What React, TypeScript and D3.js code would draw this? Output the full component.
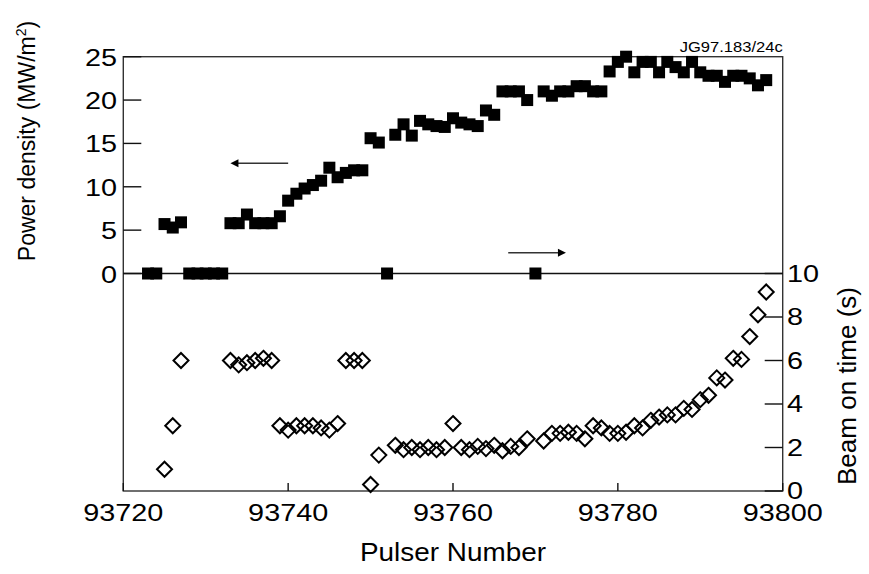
import * as d3 from "d3";

// top panel: pulse number and power density (MW/m^2)
const powerPulses = [
  93723, 93724, 93725, 93726, 93727, 93728, 93729, 93730, 93731, 93732,
  93733, 93734, 93735, 93736, 93737, 93738, 93739, 93740, 93741, 93742,
  93743, 93744, 93745, 93746, 93747, 93748, 93749, 93750, 93751, 93752,
  93753, 93754, 93755, 93756, 93757, 93758, 93759, 93760, 93761, 93762,
  93763, 93764, 93765, 93766, 93767, 93768, 93769, 93770, 93771, 93772,
  93773, 93774, 93775, 93776, 93777, 93778, 93779, 93780, 93781, 93782,
  93783, 93784, 93785, 93786, 93787, 93788, 93789, 93790, 93791, 93792,
  93793, 93794, 93795, 93796, 93797, 93798,
];
const powerValues = [
  0, 0, 5.7, 5.3, 5.9, 0, 0, 0, 0, 0,
  5.8, 5.8, 6.8, 5.8, 5.8, 5.8, 6.6, 8.4, 9.2, 9.8,
  10.2, 10.7, 12.2, 11.1, 11.6, 11.9, 11.9, 15.6, 15.1, 0,
  16.0, 17.2, 15.9, 17.6, 17.2, 17.0, 16.9, 17.9, 17.4, 17.2,
  17.0, 18.8, 18.3, 21.0, 21.0, 21.0, 20.0, 0, 21.0, 20.5,
  21.0, 21.0, 21.6, 21.6, 21.0, 21.0, 23.3, 24.4, 25.0, 23.2,
  24.4, 24.4, 23.2, 24.4, 23.8, 23.2, 24.4, 23.2, 22.8, 22.8,
  22.1, 22.8, 22.8, 22.5, 21.7, 22.3,
];

// bottom panel: pulse number and beam on time (s)
const beamPulses = [
  93725, 93726, 93727, 93733, 93734, 93735, 93736, 93737, 93738, 93739,
  93740, 93741, 93742, 93743, 93744, 93745, 93746, 93747, 93748, 93749,
  93750, 93751, 93753, 93754, 93755, 93756, 93757, 93758, 93759, 93760,
  93761, 93762, 93763, 93764, 93765, 93766, 93767, 93768, 93769, 93771,
  93772, 93773, 93774, 93775, 93776, 93777, 93778, 93779, 93780, 93781,
  93782, 93783, 93784, 93785, 93786, 93787, 93788, 93789, 93790, 93791,
  93792, 93793, 93794, 93795, 93796, 93797, 93798,
];
const beamValues = [
  1.0, 3.0, 6.0, 6.0, 5.8, 5.9, 6.0, 6.1, 6.0, 3.0,
  2.8, 3.0, 3.0, 3.0, 2.9, 2.8, 3.1, 6.0, 6.0, 6.0,
  0.3, 1.65, 2.1, 1.9, 2.0, 1.9, 2.0, 1.9, 2.0, 3.1,
  2.0, 1.9, 2.05, 1.95, 2.1, 1.85, 2.05, 2.0, 2.4, 2.3,
  2.65, 2.65, 2.7, 2.65, 2.4, 3.0, 2.9, 2.65, 2.65, 2.7,
  3.0, 2.9, 3.25, 3.4, 3.5, 3.5, 3.8, 3.75, 4.2, 4.4,
  5.2, 5.1, 6.1, 6.05, 7.1, 8.1, 9.15,
];

const xTicks = [93720, 93740, 93760, 93780, 93800];
const powerTicks = [0, 5, 10, 15, 20, 25];
const beamTicks = [0, 2, 4, 6, 8, 10];

// arrows: [from pulse, to pulse], drawn at a power level
const leftArrow = { from: 93740, to: 93733, level: 12.7 };
const rightArrow = { from: 93766.7, to: 93773.7, level: 2.4 };

const W = 869, H = 574;
const left = 123.3, right = 782.7, top = 56.7, mid = 273.5, bottom = 491;
const font = "'Liberation Sans', Arial, sans-serif";

export default function App() {
  const x = d3.scaleLinear().domain([93720, 93800]).range([left, right]);
  const yP = d3.scaleLinear().domain([0, 25]).range([mid, top]);
  const yB = d3.scaleLinear().domain([0, 10]).range([bottom, mid]);

  const sq = 12;
  const dh = 7.5;
  const diamond = `M0,${-dh}L${dh},0L0,${dh}L${-dh},0Z`;

  const arrow = (a: { from: number; to: number; level: number }) => {
    const x1 = x(a.from), x2 = x(a.to), y = yP(a.level);
    const dir = x2 > x1 ? 1 : -1;
    return (
      <g>
        <line x1={x1} x2={x2 - dir * 6} y1={y} y2={y} stroke="#333" strokeWidth={1.5} />
        <path d={`M${x2},${y}L${x2 - dir * 8},${y - 4}L${x2 - dir * 8},${y + 4}Z`} fill="#000" />
      </g>
    );
  };

  return (
    <svg width={W} height={H} style={{ position: "absolute", left: 0, top: 0, background: "#fff" }}
      fontFamily={font}>
      {/* frame */}
      <rect x={left} y={top} width={right - left} height={bottom - top} fill="none" stroke="#333" strokeWidth={1.4} />
      <line x1={left} x2={right} y1={mid} y2={mid} stroke="#111" strokeWidth={1.6} />

      {/* left ticks */}
      {powerTicks.map(t => (
        <g key={"p" + t}>
          <line x1={left} x2={left + 18} y1={yP(t)} y2={yP(t)} stroke="#111" strokeWidth={1.4} />
          <text transform={`translate(117,${yP(t) + 9}) scale(1.2,1)`} textAnchor="end" fontSize={24}>{t}</text>
        </g>
      ))}
      {/* right ticks */}
      {beamTicks.map(t => (
        <g key={"b" + t}>
          <line x1={right - 18} x2={right} y1={yB(t)} y2={yB(t)} stroke="#111" strokeWidth={1.4} />
          <text transform={`translate(787,${yB(t) + 8}) scale(1.2,1)`} textAnchor="start" fontSize={24}>{t}</text>
        </g>
      ))}
      {/* bottom ticks */}
      {xTicks.map(t => (
        <g key={"x" + t}>
          <line x1={x(t)} x2={x(t)} y1={bottom - 8} y2={bottom} stroke="#111" strokeWidth={1.4} />
          <text transform={`translate(${x(t)},521) scale(1.2,1)`} textAnchor="middle" fontSize={24}>{t}</text>
        </g>
      ))}

      {/* power density squares */}
      {powerPulses.map((p, i) => (
        <rect key={"s" + p} x={x(p) - sq / 2} y={yP(powerValues[i]) - sq / 2} width={sq} height={sq} fill="#000" />
      ))}

      {/* beam on time diamonds */}
      {beamPulses.map((p, i) => (
        <path key={"d" + p} d={diamond} transform={`translate(${x(p)},${yB(beamValues[i])})`}
          fill="none" stroke="#000" strokeWidth={2} />
      ))}

      {arrow(leftArrow)}
      {arrow(rightArrow)}

      {/* titles */}
      <text transform="translate(35,141) rotate(-90)" textAnchor="middle" fontSize={23}>
        Power density (MW/m<tspan fontSize={14} dy={-9}>2</tspan><tspan dy={9}>)</tspan>
      </text>
      <text transform="translate(856,386) rotate(-90)" textAnchor="middle" fontSize={26}>Beam on time (s)</text>
      <text x={(left + right) / 2} y={561} textAnchor="middle" fontSize={26} textLength={186}
        lengthAdjust="spacingAndGlyphs">Pulser Number</text>
      <text x={right} y={52} textAnchor="end" fontSize={15} textLength={103}
        lengthAdjust="spacingAndGlyphs">JG97.183/24c</text>
    </svg>
  );
}
